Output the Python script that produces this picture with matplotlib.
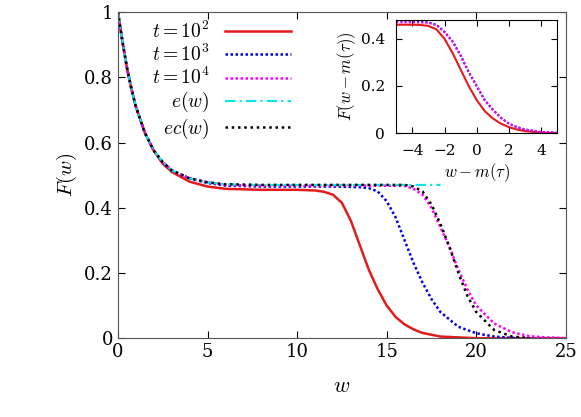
import matplotlib
matplotlib.use("Agg")
import matplotlib.pyplot as plt

plt.rcParams['font.family'] = 'DejaVu Serif'
plt.rcParams['mathtext.fontset'] = 'cm'

w_red = [0,0.25,0.5,0.75,1,1.5,2,2.5,3,4,5,6,8,10,11,11.5,12,12.5,13,13.5,14,14.5,15,15.5,16,16.5,17,18,20,25]
F_red = [1,.91,.83,.765,.71,.63,.575,.535,.51,.48,.465,.458,.455,.455,.453,.449,.44,.415,.36,.285,.21,.15,.10,.065,.042,.027,.016,.005,0,0]
w_blue = [0,0.25,0.5,0.75,1,1.5,2,2.5,3,4,5,6,8,10,12,13.5,14,14.5,15,15.5,16,16.5,17,17.5,18,19,20,21,22,25]
F_blue = [1,.91,.83,.765,.71,.63,.575,.54,.515,.49,.476,.468,.465,.465,.465,.463,.46,.45,.42,.37,.30,.23,.17,.12,.08,.035,.015,.005,.001,0]
w_mag = [0,0.25,0.5,0.75,1,1.5,2,2.5,3,4,5,6,8,10,12,14,16,16.5,17,17.5,18,18.5,19,19.5,20,21,22,23,24,25]
F_mag = [1,.91,.83,.765,.71,.63,.575,.54,.515,.49,.478,.47,.468,.468,.468,.468,.467,.458,.44,.40,.34,.28,.21,.15,.10,.045,.018,.006,.002,0]
w_e = [0,0.25,0.5,0.75,1,1.5,2,2.5,3,4,5,6,8,10,12,14,16,18]
F_e = [1,.91,.83,.765,.71,.63,.575,.54,.515,.49,.478,.472,.47,.47,.47,.47,.47,.47]
w_ec = [0,0.25,0.5,0.75,1,1.5,2,2.5,3,4,5,6,8,10,12,14,16,16.5,17,17.5,18,18.5,19,19.5,20,21,22,23]
F_ec = [1,.91,.83,.765,.71,.63,.575,.54,.515,.49,.478,.472,.47,.47,.47,.47,.47,.465,.45,.41,.35,.28,.20,.13,.08,.025,.005,0]

x_in = [-5,-4,-3.5,-3,-2.5,-2,-1.5,-1,-0.5,0,0.5,1,1.5,2,2.5,3,4,5]
Fin_red = [.46,.46,.459,.455,.44,.40,.34,.27,.20,.14,.093,.062,.04,.025,.015,.008,.002,0]
Fin_blue = [.475,.475,.474,.47,.46,.43,.39,.33,.26,.20,.14,.10,.065,.04,.025,.015,.004,.001]
Fin_mag = [.47,.47,.469,.468,.458,.428,.388,.328,.258,.198,.138,.098,.064,.04,.025,.015,.004,.001]

fig = plt.figure(figsize=(5.81,4.17), dpi=100)
ax = fig.add_axes([0.203,0.189,0.771,0.782])
ax.plot(w_red,F_red,color='#e41a1c',lw=1.8,label=r'$t=10^2$')
ax.plot(w_blue,F_blue,color='#0000e0',lw=1.8,ls=(0,(1,1)),label=r'$t=10^3$')
ax.plot(w_mag,F_mag,color='#ff00ff',lw=1.8,ls=(0,(1,1)),label=r'$t=10^4$')
ax.plot(w_e,F_e,color='#00e5ee',lw=1.5,ls=(0,(5,2,1,2)),label=r'$e(w)$')
ax.plot(w_ec,F_ec,color='black',lw=1.8,ls=(0,(1,1.5)),label=r'$ec(w)$')
ax.set_xlim(0,25); ax.set_ylim(0,1)
ax.set_xticks([0,5,10,15,20,25]); ax.set_yticks([0,0.2,0.4,0.6,0.8,1])
ax.set_yticklabels(['0','0.2','0.4','0.6','0.8','1'])
ax.tick_params(direction='in',top=True,right=True,labelsize=13,length=5)
ax.set_xlabel(r'$w$',fontsize=16,labelpad=10)
ax.set_ylabel(r'$F(w)$',fontsize=15)
for s in ax.spines.values(): s.set_color('#555555')
ax.legend(loc='upper left',bbox_to_anchor=(0.045,1.015),frameon=False,markerfirst=False,
          fontsize=14,handlelength=3.4,labelspacing=0.1,borderaxespad=0.3)

ia = fig.add_axes([0.682,0.681,0.277,0.271])
ia.plot(x_in,Fin_red,color='#e41a1c',lw=1.5)
ia.plot(x_in,Fin_blue,color='#0000e0',lw=1.5,ls=(0,(1,1)))
ia.plot(x_in,Fin_mag,color='#ff00ff',lw=1.5,ls=(0,(1,1)))
ia.set_xlim(-5,5); ia.set_ylim(0,0.48)
ia.set_xticks([-4,-2,0,2,4]); ia.set_yticks([0,0.2,0.4])
ia.set_yticklabels(['0','0.2','0.4'])
ia.tick_params(direction='in',top=True,right=True,labelsize=11,length=4,pad=8)
ia.set_xlabel(r'$w-m(\tau)$',fontsize=12,labelpad=2)
ia.set_ylabel(r'$F(w-m(\tau))$',fontsize=12,labelpad=2)
fig.savefig('out.png',dpi=100)
